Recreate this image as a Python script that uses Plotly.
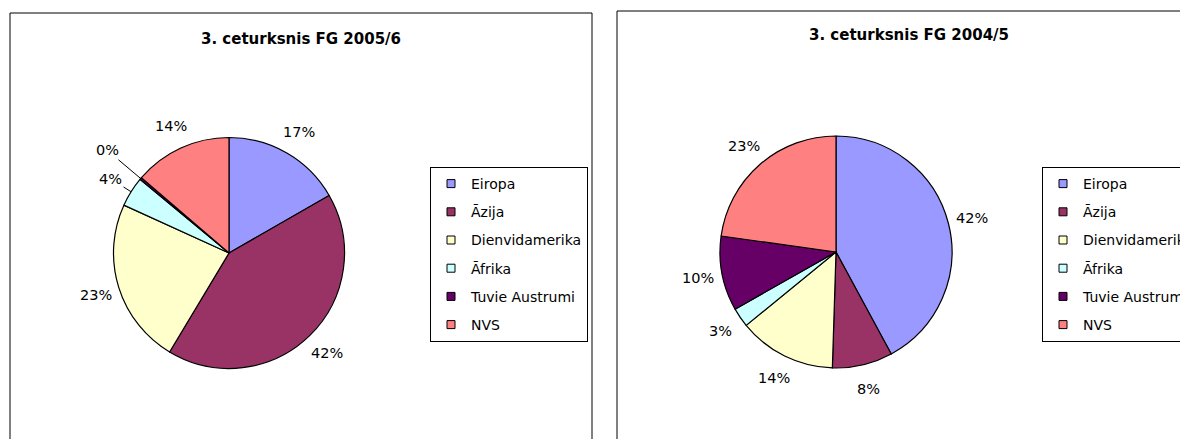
import math
import plotly.graph_objects as go

# ---- data ----
regions = ["Eiropa", "Āzija", "Dienvidamerika", "Āfrika", "Tuvie Austrumi", "NVS"]
share_2005_6 = [16.7, 41.9, 23.2, 4.2, 0.3, 13.7]
share_2004_5 = [42.1, 8.4, 13.6, 2.7, 10.4, 22.8]
title_2005_6 = "3. ceturksnis FG 2005/6"
title_2004_5 = "3. ceturksnis FG 2004/5"

colors = ["#9999FF", "#993366", "#FFFFCC", "#CCFFFF", "#660066", "#FF8080"]

W, H = 1188, 439
OFF = 8  # page body margin of the html page
FONT = "DejaVu Sans, Verdana, sans-serif"
LABEL_SIZE = 14.5


def px(x):
    return (x - OFF) / W


def py(y):
    return 1 - (y - OFF) / H


def pie_domain(cx, cy, r):
    return dict(x=[px(cx - r), px(cx + r)], y=[py(cy + r), py(cy - r)])


def percent_labels(values, cx, cy, r):
    """Excel-like outside percent labels placed along each slice's mid angle."""
    total = float(sum(values))
    cum = 0.0
    placed = []
    for v in values:
        theta = 2 * math.pi * (cum + v / 2) / total
        cum += v
        text = "%d%%" % round(100 * v / total)
        w = 0.66 * LABEL_SIZE * len(text)
        k = 1.21
        moved = False
        while True:
            lx = cx + k * r * math.sin(theta)
            ly = cy - k * r * math.cos(theta)
            hit = None
            for p in placed:
                if abs(p[0] - lx) < (p[2] + w) / 2 and abs(p[1] - ly) < 28:
                    hit = p
                    break
            if hit is None:
                break
            hit[3] = True
            moved = True
            k += 0.01
        ex = cx + r * math.sin(theta)
        ey = cy - r * math.cos(theta)
        placed.append([lx, ly, w, moved, text, ex, ey])
    anns = []
    for lx, ly, w, moved, text, ex, ey in placed:
        base = dict(text=text, xref="paper", yref="paper",
                    font=dict(family=FONT, size=LABEL_SIZE, color="black"))
        if moved:
            anns.append(dict(base, x=px(ex), y=py(ey), showarrow=True,
                             ax=lx - ex, ay=ly - ey, arrowhead=0,
                             arrowwidth=1, arrowcolor="black", standoff=0))
        else:
            anns.append(dict(base, x=px(lx), y=py(ly), showarrow=False,
                             xanchor="center", yanchor="middle"))
    return anns


LEFT = (229, 253, 115.5)
RIGHT = (836, 252, 116)

fig = go.Figure()

fig.add_trace(go.Pie(
    labels=regions, values=share_2005_6, sort=False, direction="clockwise",
    rotation=0, domain=pie_domain(*LEFT),
    marker=dict(colors=colors, line=dict(color="black", width=1.2)),
    textinfo="none", showlegend=False, name="2005/6",
))

fig.add_trace(go.Pie(
    labels=regions, values=share_2004_5, sort=False, direction="clockwise",
    rotation=0, domain=pie_domain(*RIGHT),
    marker=dict(colors=colors, line=dict(color="black", width=1.2)),
    textinfo="none", showlegend=False, name="2004/5",
))

# legend entries (one legend per chart)
for leg in ["legend", "legend2"]:
    for name, col in zip(regions, colors):
        fig.add_trace(go.Scatter(
            x=[None], y=[None], mode="markers", name=name,
            marker=dict(symbol="square", size=8, color=col,
                        line=dict(color="black", width=1)),
            legend=leg, legendgroup=leg + name, showlegend=True,
            hoverinfo="skip",
        ))

legend_style = dict(
    bgcolor="white", bordercolor="black", borderwidth=1,
    font=dict(family=FONT, size=14, color="black"),
    xanchor="left", yanchor="top", itemwidth=30,
    tracegroupgap=7, traceorder="grouped",
    itemclick=False, itemdoubleclick=False,
)

annotations = [
    dict(text="<b>" + title_2005_6 + "</b>", x=px(301), y=py(39),
         xref="paper", yref="paper", showarrow=False,
         xanchor="center", yanchor="middle",
         font=dict(family=FONT, size=15, color="black")),
    dict(text="<b>" + title_2004_5 + "</b>", x=px(909), y=py(35),
         xref="paper", yref="paper", showarrow=False,
         xanchor="center", yanchor="middle",
         font=dict(family=FONT, size=15, color="black")),
]
annotations += percent_labels(share_2005_6, *LEFT)
annotations += percent_labels(share_2004_5, *RIGHT)

fig.update_layout(
    width=W, height=H,
    margin=dict(l=0, r=0, t=0, b=0, autoexpand=False),
    paper_bgcolor="white", plot_bgcolor="white",
    font=dict(family=FONT, color="black"),
    xaxis=dict(visible=False), yaxis=dict(visible=False),
    legend=dict(x=px(430), y=py(167), **legend_style),
    legend2=dict(x=px(1042), y=py(167), **legend_style),
    shapes=[
        dict(type="rect", xref="paper", yref="paper",
             x0=px(10), x1=px(592), y0=-0.1, y1=py(13),
             line=dict(color="black", width=1), fillcolor="rgba(0,0,0,0)"),
        dict(type="rect", xref="paper", yref="paper",
             x0=px(617), x1=1.05, y0=-0.1, y1=py(11),
             line=dict(color="black", width=1), fillcolor="rgba(0,0,0,0)"),
    ],
    annotations=annotations,
)

fig.write_html("out.html")
